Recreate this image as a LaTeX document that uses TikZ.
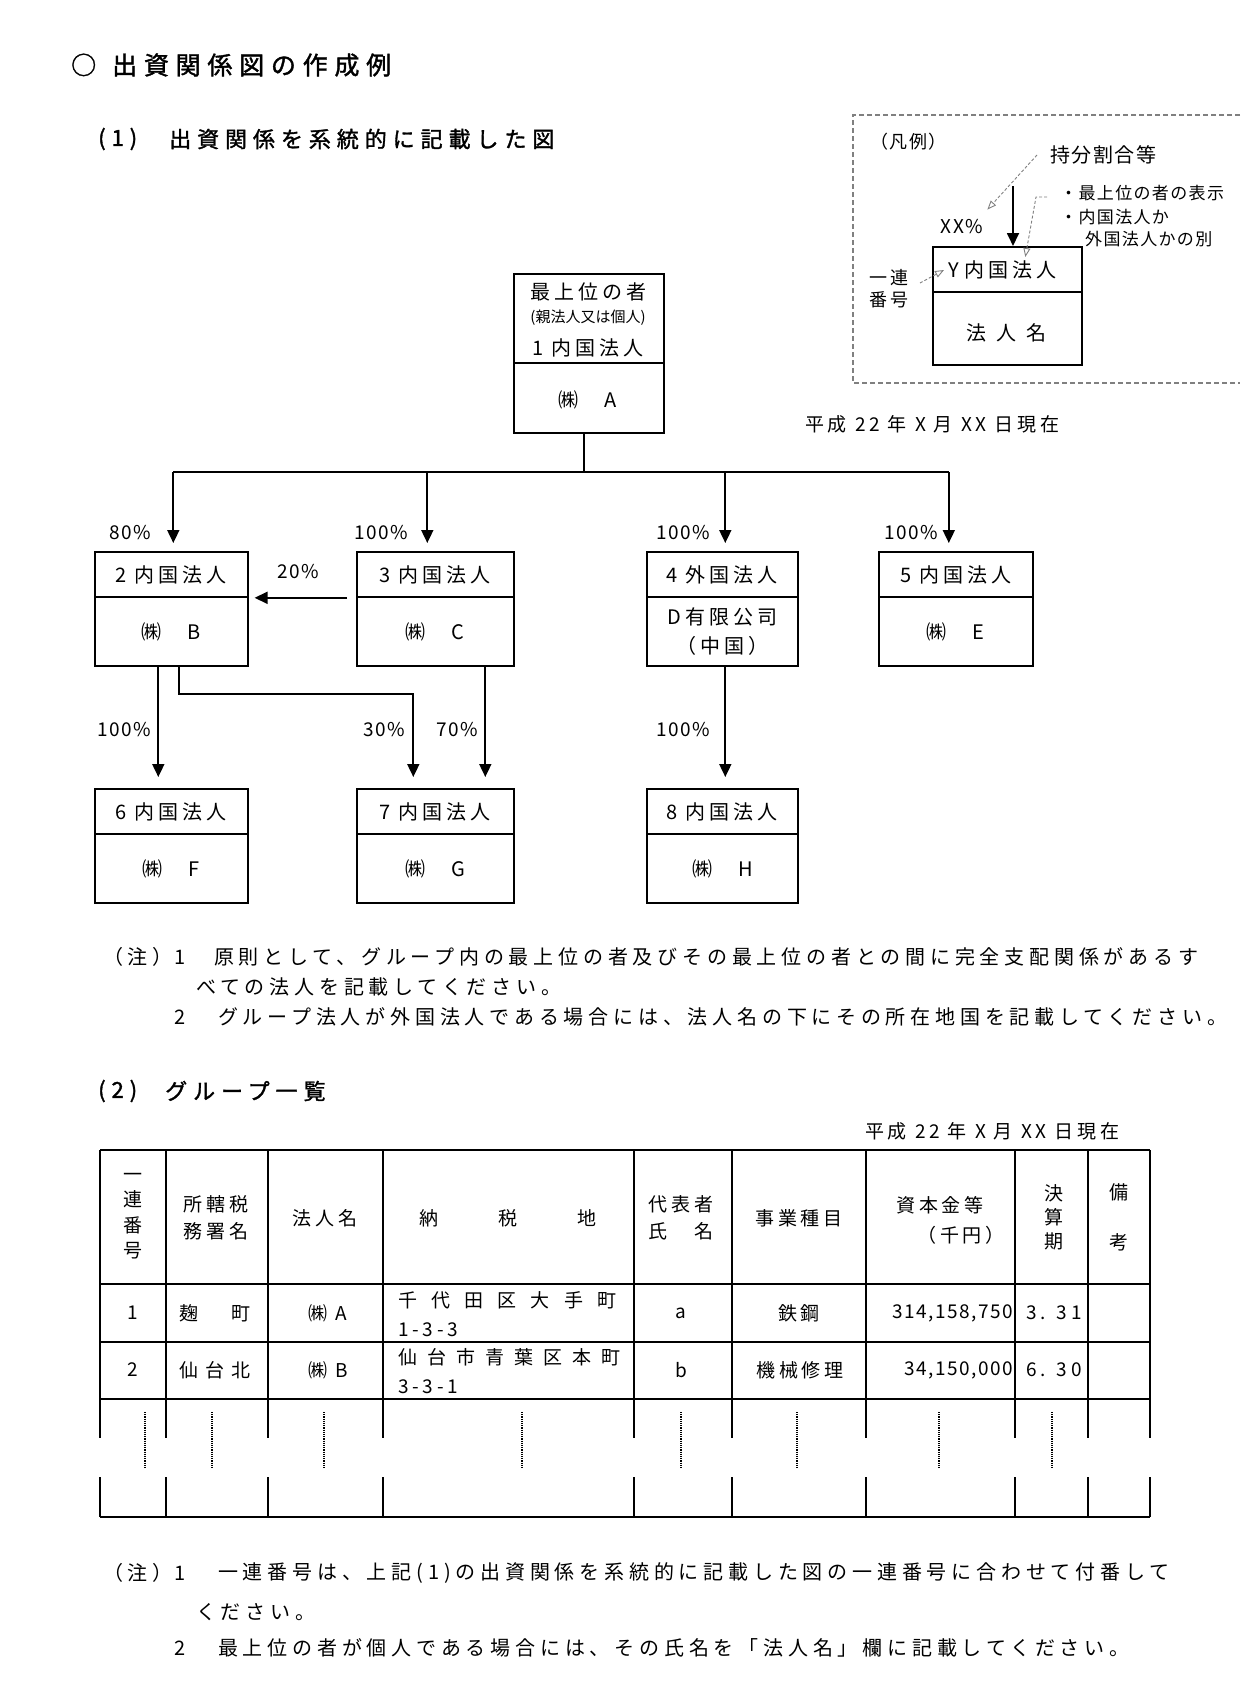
\documentclass[tikz,border=0pt]{standalone}
\usepackage{fontspec}
\setmainfont{Noto Sans CJK JP}
\newfontfamily\jpsp[LetterSpace=20]{Noto Sans CJK JP}
\newfontfamily\jpnote[LetterSpace=24]{Noto Sans CJK JP}
\newfontfamily\jpnarrow[LetterSpace=8]{Noto Sans CJK JP}
\newfontfamily\jphead[LetterSpace=27,FakeBold=1.5]{Noto Sans CJK JP}
\usetikzlibrary{arrows.meta,calc,positioning}

\tikzset{
  corp/.style={draw, line width=1.6pt, minimum width=153pt, minimum height=114pt, inner sep=0pt},
  divider/.style={line width=1.2pt},
  boxtext/.style={font=\jpsp\fontsize{20}{29}\selectfont, inner sep=0pt, align=center},
  pct/.style={font=\jpnarrow\fontsize{19}{24}\selectfont, inner sep=0pt},
  link/.style={line width=1.8pt},
  arr/.style={line width=1.8pt, -{Triangle[length=13pt,width=12pt]}},
  legendarr/.style={gray, dash pattern=on 3pt off 2pt, line width=0.9pt, -{Triangle[open,length=9pt,width=7pt]}},
  heading/.style={font=\jphead\fontsize{22}{26}\selectfont, inner sep=0pt, anchor=west},
  note/.style={font=\jpnote\fontsize{20}{24}\selectfont, inner sep=0pt, anchor=west},
  small/.style={font=\jpnarrow\fontsize{17}{22}\selectfont, inner sep=0pt},
  cell/.style={font=\jpsp\fontsize{19}{26}\selectfont, inner sep=0pt, align=center},
  tbl/.style={line width=1.5pt}
}

% company box: options, name, left x, top y, header, name text
\newcommand{\corpbox}[6][]{
   \node[corp, anchor=north west, #1] (#2) at (#3,#4) {};
   \draw[divider] ($(#2.north west)+(0,46)$) -- ($(#2.north east)+(0,46)$);
   \node[boxtext] (#2-head) at ($(#2.north)+(0,24)$) {#5};
   \node[boxtext] (#2-name) at ($(#2.north)+(0,81)$) {#6};
}

\begin{document}
\begin{tikzpicture}[x=1pt,y=-1pt]
	\useasboundingbox (0,0) rectangle (1240,1705);

	% Headings
	\node[heading, font=\jphead\fontsize{25}{30}\selectfont] (title) at (71,65) {○\hspace{16pt}出資関係図の作成例};
	\node[heading] (sec1num) at (98,139) {(1)};
	\node[heading] (sec1) at (169,139) {出資関係を系統的に記載した図};

	% Legend
	\draw[gray, dash pattern=on 5pt off 3pt, line width=1.1pt] (1240,115) -- (853,115) -- (853,383) -- (1240,383);
	\node[small, font=\jpnarrow\fontsize{18}{22}\selectfont, anchor=west] (legendtitle) at (870,142) {（凡例）};
	\node[corp, anchor=north west, minimum width=149pt, minimum height=118pt] (sample) at (932,246) {};
	\draw[divider] ($(sample.north west)+(0,46)$) -- ($(sample.north east)+(0,46)$);
	\node[boxtext, anchor=west] (sample-head) at (948,270) {Y\hspace{6pt}内国法人};
	\node[boxtext] (sample-name) at (1006,333) {法\hspace{10pt}人\hspace{10pt}名};
	\coordinate (sample-in) at (1013,186);
	\draw[arr] (sample-in) -- (sample-in |- sample.north);
	\node[pct] (pctsample) at (962,227) {XX\%};
	\node[small, font=\jpnarrow\fontsize{20}{24}\selectfont, anchor=west] (sharelabel) at (1050,155) {持分割合等};
	\node[small, anchor=west] (kind1) at (1060,193) {・最上位の者の表示};
	\node[small, anchor=west] (kind2) at (1060,217) {・内国法人か};
	\node[small, anchor=west] (kind3) at (1085,239) {外国法人かの別};
	\node[small, align=center, font=\jpsp\fontsize{18}{22}\selectfont] (serialnote) at (889,289) {一連\\番号};
	\draw[legendarr] ($(sharelabel.west)+(-13,0)$) -- ($(pctsample.north east)+(4,-10)$);
	\draw[legendarr] ($(kind1.west)+(-13,4)$) -- ++(-11,0) -- ($(sample.north)+(18,11)$);
	\draw[legendarr] ($(serialnote.east)+(11,-6)$) -- ($(sample-head.west)+(-4,0)$);

	\node[small, font=\jpsp\fontsize{19}{24}\selectfont, anchor=west] (date1) at (805,424) {平成 22 年 X 月 XX 日現在};

	% Top company
	\node[corp, anchor=north west, minimum width=150pt, minimum height=159pt] (A) at (513,273) {};
	\draw[divider] ($(A.north west)+(0,90)$) -- ($(A.north east)+(0,90)$);
	\node[boxtext] (A-top) at (588,292) {最上位の者};
	\node[boxtext, font=\fontsize{15}{18}\selectfont] (A-sub) at (588,318) {(親法人又は個人)};
	\node[boxtext] (A-head) at (588,348) {1\hspace{8pt}内国法人};
	\node[boxtext] (A-name) at (588,400) {㈱\hspace{26pt}A};

	% Group companies
	\corpbox{B}{94}{551}{2\hspace{8pt}内国法人}{㈱\hspace{26pt}B}
	\corpbox[minimum width=157pt]{C}{356}{551}{3\hspace{8pt}内国法人}{㈱\hspace{26pt}C}
	\corpbox[minimum width=151pt]{D}{646}{551}{4\hspace{8pt}外国法人}{D有限公司\\（中国）}
	\corpbox[minimum width=154pt]{E}{878}{551}{5\hspace{8pt}内国法人}{㈱\hspace{26pt}E}
	\corpbox{F}{94}{788}{6\hspace{8pt}内国法人}{㈱\hspace{26pt}F}
	\corpbox[minimum width=157pt]{G}{356}{788}{7\hspace{8pt}内国法人}{㈱\hspace{26pt}G}
	\corpbox[minimum width=151pt]{H}{646}{788}{8\hspace{8pt}内国法人}{㈱\hspace{26pt}H}

	% Holdings from the top
	\coordinate (bar) at (0,472);
	\coordinate (A-out) at ($(A.south)+(-5,0)$);
	\draw[link] (A-out) -- (A-out |- bar);
	\foreach \co/\dx in {B/2,C/-8,D/3,E/-7}{
		\coordinate (\co-in) at ($(\co.north)+(\dx,-8)$);
		\draw[arr] (\co-in |- bar) -- (\co-in);
	}
	\draw[link] (B-in |- bar) -- (E-in |- bar);
	\node[pct, anchor=east] (pB) at (151,533) {80\%};
	\node[pct, anchor=east] (pC) at (408,533) {100\%};
	\node[pct, anchor=east] (pD) at (710,533) {100\%};
	\node[pct, anchor=east] (pE) at (938,533) {100\%};

	% Holdings between subsidiaries
	\draw[arr] ($(C.west)+(-9,-11)$) -- ($(B.east)+(6,-11)$);
	\node[pct] (pCB) at (298,572) {20\%};
	\draw[arr] ($(B.south)+(-13,0)$) -- ($(F.north)+(-13,-11)$);
	\draw[arr] ($(B.south)+(8,0)$) -- ++(0,27) -| ($(G.north)+(-22,-11)$);
	\draw[arr] ($(C.south)+(50,0)$) -- ($(G.north)+(50,-11)$);
	\draw[arr] ($(D.south)+(3,0)$) -- ($(H.north)+(3,-11)$);
	\node[pct, anchor=east] (pF) at (151,730) {100\%};
	\node[pct, anchor=east] (pBG) at (405,730) {30\%};
	\node[pct, anchor=east] (pCG) at (478,730) {70\%};
	\node[pct, anchor=east] (pH) at (710,730) {100\%};

	% Notes (1)
	\node[note] (note1lbl) at (103,957) {（注）};
	\node[note] (note1num) at (174,957) {1};
	\node[note] (note1a) at (214,957) {原則として、グループ内の最上位の者及びその最上位の者との間に完全支配関係があるす};
	\node[note] (note1b) at (196,987) {べての法人を記載してください。};
	\node[note] (note2num) at (174,1017) {2};
	\node[note] (note2) at (218,1017) {グループ法人が外国法人である場合には、法人名の下にその所在地国を記載してください。};

	% Group list
	\node[heading] (sec2num) at (98,1091) {(2)};
	\node[heading] (sec2) at (165,1091) {グループ一覧};
	\node[small, font=\jpsp\fontsize{19}{24}\selectfont, anchor=west] (date2) at (865,1131) {平成 22 年 X 月 XX 日現在};

	\foreach \x in {100,166,268,383,634,732,866,1015,1088,1150}{
		\draw[tbl] (\x,1150) -- (\x,1438);
		\draw[tbl] (\x,1477) -- (\x,1517);
	}
	\foreach \y in {1150,1284,1342,1517}
		\draw[tbl] (100,\y) -- (1150,\y);
	\draw[tbl, line width=2.6pt] (100,1399) -- (1150,1399);
	\foreach \x in {145,212,324,522,681,797,939,1052}
		\draw[densely dotted, line width=1.2pt] (\x,1412) -- (\x,1468);

	% header row
	\node[cell, font=\jpsp\fontsize{19}{25.5}\selectfont] (h1) at (133,1216) {一\\連\\番\\号};
	\node[cell, font=\jpsp\fontsize{19}{27}\selectfont] (h2) at (216,1218) {所轄税\\務署名};
	\node[cell] (h3) at (325,1218) {法人名};
	\node[cell] (h4) at (508,1218) {\makebox[177pt][s]{納\hfill 税\hfill 地}};
	\node[cell, font=\jpsp\fontsize{19}{27}\selectfont] (h5) at (681,1218) {代表者\\\makebox[66pt][s]{氏\hfill 名}};
	\node[cell] (h6) at (799,1218) {事業種目};
	\node[cell] (h7a) at (940,1205) {資本金等};
	\node[cell, anchor=east] (h7b) at (1005,1235) {（千円）};
	\node[cell, font=\jpsp\fontsize{19}{24}\selectfont] (h8) at (1054,1217) {決\\算\\期};
	\node[cell, font=\jpsp\fontsize{19}{50}\selectfont] (h9) at (1119,1217) {備\\考};

	% rows
	\node[cell] (r1c1) at (133,1313) {1};
	\node[cell] (r1c2) at (215,1313) {\makebox[72pt][s]{麹\hfill 町}};
	\node[cell] (r1c3) at (328,1313) {㈱\hspace{8pt}A};
	\node[cell, anchor=west] (r1c4a) at (398,1300) {\makebox[218pt][s]{千\hfill 代\hfill 田\hfill 区\hfill 大\hfill 手\hfill 町}};
	\node[cell, anchor=west] (r1c4b) at (398,1330) {1-3-3};
	\node[cell] (r1c5) at (681,1313) {a};
	\node[cell] (r1c6) at (799,1313) {鉄鋼};
	\node[cell, font=\jpnarrow\fontsize{19}{24}\selectfont, anchor=east] (r1c7) at (1013,1313) {314,158,750};
	\node[cell] (r1c8) at (1054,1313) {3. 31};

	\node[cell] (r2c1) at (133,1370) {2};
	\node[cell] (r2c2) at (215,1370) {\makebox[72pt][s]{仙\hfill 台\hfill 北}};
	\node[cell] (r2c3) at (328,1370) {㈱\hspace{8pt}B};
	\node[cell, anchor=west] (r2c4a) at (398,1357) {\makebox[222pt][s]{仙\hfill 台\hfill 市\hfill 青\hfill 葉\hfill 区\hfill 本\hfill 町}};
	\node[cell, anchor=west] (r2c4b) at (398,1387) {3-3-1};
	\node[cell] (r2c5) at (681,1370) {b};
	\node[cell] (r2c6) at (800,1370) {機械修理};
	\node[cell, font=\jpnarrow\fontsize{19}{24}\selectfont, anchor=east] (r2c7) at (1013,1370) {34,150,000};
	\node[cell] (r2c8) at (1054,1370) {6. 30};

	% Notes (2)
	\node[note] (note3lbl) at (103,1573) {（注）};
	\node[note] (note3num) at (174,1573) {1};
	\node[note] (note3a) at (218,1573) {一連番号は、上記(1)の出資関係を系統的に記載した図の一連番号に合わせて付番して};
	\node[note] (note3b) at (196,1612) {ください。};
	\node[note] (note4num) at (174,1648) {2};
	\node[note] (note4) at (218,1648) {最上位の者が個人である場合には、その氏名を「法人名」欄に記載してください。};
\end{tikzpicture}
\end{document}
